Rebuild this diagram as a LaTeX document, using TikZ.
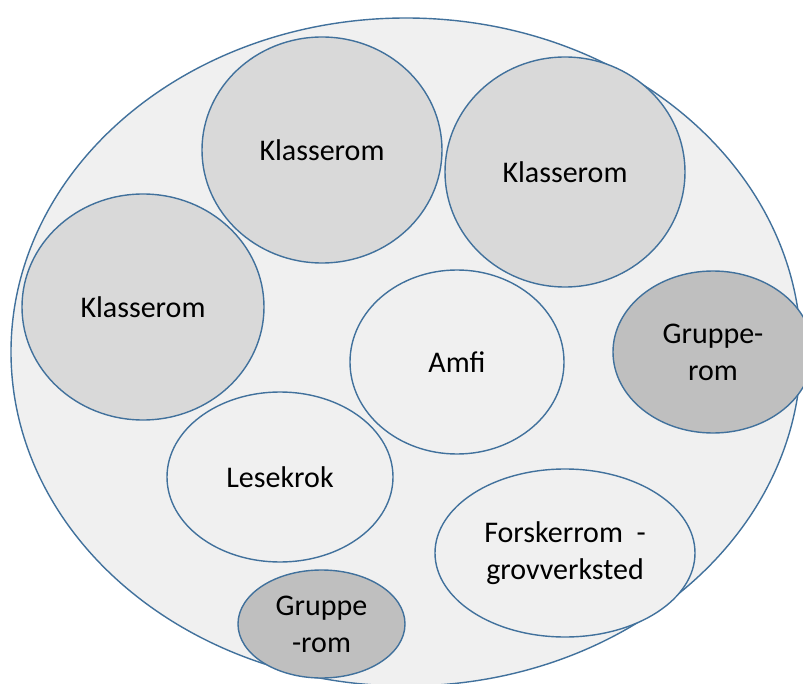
\documentclass[tikz,border=0pt]{standalone}
\usepackage{fontspec}
\setmainfont{Carlito}
\usetikzlibrary{shapes.geometric}
\definecolor{edgeblue}{HTML}{41719C}
\definecolor{bgfill}{HTML}{F0F0F0}
\definecolor{klassefill}{HTML}{D9D9D9}
\definecolor{gruppefill}{HTML}{BFBFBF}
\begin{document}
\begin{tikzpicture}[x=0.5pt,y=-0.5pt,
  room/.style={ellipse, draw=edgeblue, line width=0.7pt, inner sep=0pt, align=center,
    font=\fontsize{15}{18.5}\selectfont, text=black},
  klasse/.style={room, fill=klassefill},
  gruppe/.style={room, fill=gruppefill},
  open/.style={room, fill=bgfill}]
\useasboundingbox (0,0) rectangle (803,684);
\fill[white] (0,0) rectangle (803,684);
\node[open, minimum width=395pt, minimum height=334pt] (outer) at (406,352) {};
\node[klasse, minimum width=120pt, minimum height=113pt] (k1) at (322,150) {Klasserom};
\node[klasse, minimum width=120pt, minimum height=115pt] (k2) at (565,172) {Klasserom};
\node[klasse, minimum width=121pt, minimum height=113pt] (k3) at (143,307) {Klasserom};
\node[open, minimum width=107pt, minimum height=92pt] (amfi) at (457,362) {Amfi};
\node[gruppe, minimum width=100pt, minimum height=81pt] (g1) at (713,352) {Gruppe-\\rom};
\node[open, minimum width=113pt, minimum height=85pt] (lese) at (280,477) {Lesekrok};
\node[open, minimum width=130pt, minimum height=84pt] (forsk) at (565,553) {Forskerrom \ -\\grovverksted};
\node[gruppe, minimum width=83.5pt, minimum height=54pt] (g2) at (321.5,624) {Gruppe\\-rom};
\end{tikzpicture}
\end{document}
